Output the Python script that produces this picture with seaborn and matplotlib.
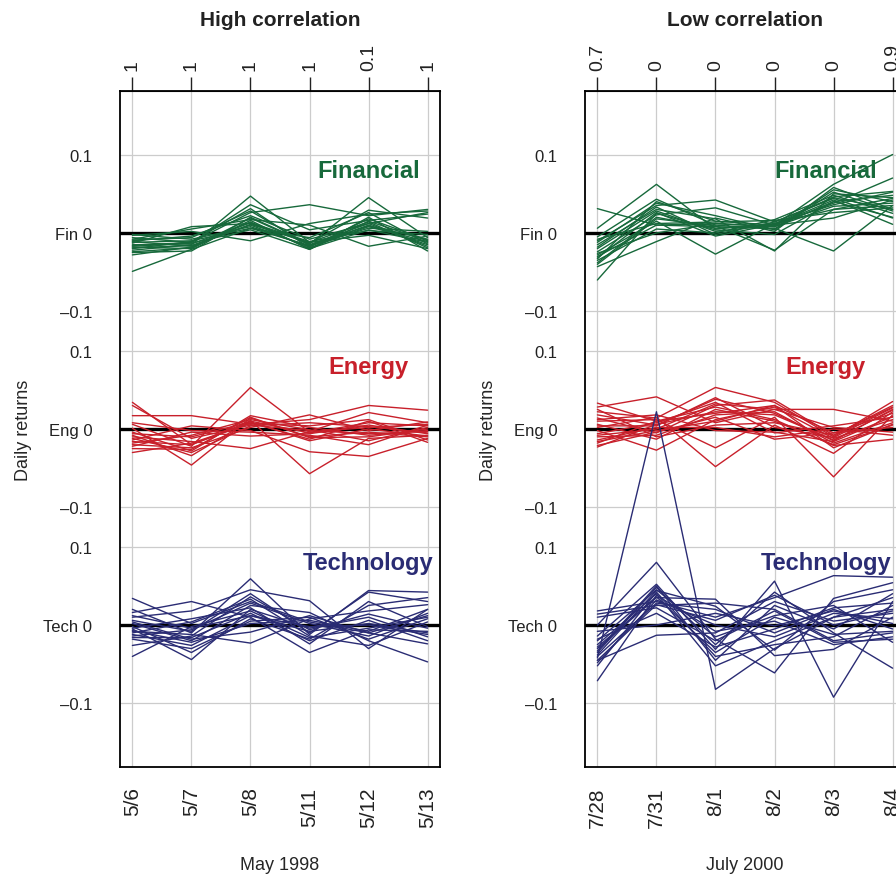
import matplotlib
matplotlib.use("Agg")
import matplotlib.pyplot as plt
import seaborn as sns
import pandas as pd

# Daily returns, one row per stock, six trading days per panel
dates_high = ["5/6", "5/7", "5/8", "5/11", "5/12", "5/13"]
dates_low = ["7/28", "7/31", "8/1", "8/2", "8/3", "8/4"]
top_high = ["1", "1", "1", "1", "0.1", "1"]
top_low = ["0.7", "0", "0", "0", "0", "0.9"]

fin_high = [
    [-0.049, -0.021, 0.006, -0.016, 0.009, -0.008],
    [-0.028, -0.018, 0.014, -0.020, 0.004, -0.012],
    [-0.025, -0.023, 0.020, -0.014, 0.045, -0.006],
    [-0.022, -0.015, 0.047, -0.012, 0.014, -0.019],
    [-0.020, -0.011, 0.031, -0.019, 0.008, -0.011],
    [-0.018, -0.020, 0.016, -0.021, 0.020, -0.023],
    [-0.016, -0.012, 0.026, 0.036, 0.022, 0.030],
    [-0.013, 0.008, 0.012, -0.013, 0.029, 0.019],
    [-0.010, -0.004, 0.022, -0.008, 0.012, 0.026],
    [-0.008, 0.005, 0.017, 0.010, -0.017, -0.004],
    [-0.006, -0.012, 0.036, 0.004, 0.016, 0.024],
    [-0.003, 0.002, -0.010, 0.012, 0.024, 0.028],
    [-0.002, -0.008, 0.008, -0.017, 0.010, -0.015],
    [-0.015, -0.014, 0.013, -0.011, 0.003, -0.002],
    [-0.019, -0.016, 0.010, -0.018, 0.018, -0.009],
    [-0.012, -0.010, 0.006, -0.006, 0.026, -0.014],
    [-0.024, -0.019, 0.019, -0.015, 0.012, -0.017],
    [-0.009, -0.006, 0.028, -0.016, 0.006, 0.002],
    [-0.017, -0.013, 0.004, -0.021, 0.015, -0.010],
    [-0.011, -0.017, 0.011, -0.012, -0.003, -0.020],
]
eng_high = [
    [0.034, -0.020, 0.010, -0.005, 0.008, 0.004],
    [0.030, -0.012, 0.005, -0.002, -0.006, -0.003],
    [0.017, 0.017, 0.006, 0.012, 0.030, 0.024],
    [0.006, -0.022, 0.053, -0.004, 0.002, 0.006],
    [0.001, -0.046, 0.014, -0.010, -0.004, -0.010],
    [-0.004, -0.028, 0.017, 0.002, -0.008, -0.002],
    [-0.008, -0.034, 0.011, -0.057, -0.012, -0.008],
    [-0.010, -0.016, -0.025, -0.003, 0.021, 0.008],
    [-0.012, -0.030, 0.004, 0.008, 0.003, -0.005],
    [-0.014, 0.004, -0.002, -0.029, -0.035, -0.012],
    [-0.016, -0.020, 0.008, -0.013, 0.010, -0.017],
    [-0.018, -0.008, 0.012, -0.001, -0.015, 0.002],
    [-0.020, -0.024, 0.002, 0.018, -0.002, 0.009],
    [-0.022, -0.004, -0.009, -0.006, 0.005, -0.006],
    [-0.025, -0.026, 0.015, -0.011, -0.010, 0.000],
    [-0.030, -0.018, 0.007, 0.004, 0.012, -0.014],
    [0.008, -0.002, -0.004, -0.008, -0.020, 0.005],
    [-0.006, -0.010, 0.009, -0.015, 0.000, -0.009],
]
tech_high = [
    [0.034, 0.002, 0.030, 0.004, -0.010, 0.012],
    [0.020, -0.010, 0.059, -0.012, 0.044, 0.042],
    [0.016, 0.030, 0.010, -0.035, -0.006, -0.008],
    [0.010, 0.018, 0.045, 0.031, -0.030, 0.020],
    [0.006, -0.008, 0.040, -0.010, 0.042, 0.030],
    [0.002, -0.020, 0.025, 0.016, -0.020, -0.047],
    [-0.002, -0.035, 0.008, -0.018, 0.025, 0.035],
    [-0.005, -0.044, 0.020, -0.004, 0.010, -0.015],
    [-0.008, -0.012, -0.023, 0.008, 0.018, 0.026],
    [-0.010, 0.004, 0.033, -0.014, -0.026, 0.004],
    [-0.012, -0.026, 0.012, -0.008, 0.002, -0.010],
    [-0.014, -0.006, 0.028, 0.002, -0.014, 0.015],
    [-0.016, -0.016, 0.015, -0.020, 0.006, -0.020],
    [-0.018, -0.030, 0.005, 0.010, -0.018, 0.008],
    [-0.026, -0.014, 0.036, -0.006, 0.014, -0.004],
    [-0.040, -0.002, 0.018, -0.016, -0.004, 0.010],
    [0.004, -0.018, -0.009, 0.012, -0.010, -0.024],
    [-0.004, 0.008, 0.022, -0.024, 0.030, -0.002],
    [-0.007, -0.022, 0.002, 0.006, -0.008, 0.020],
    [0.012, -0.004, 0.012, -0.002, 0.000, -0.012],
]

fin_low = [
    [0.031, 0.010, 0.012, 0.008, 0.040, 0.020],
    [0.006, 0.062, 0.005, 0.012, 0.030, 0.035],
    [-0.005, 0.043, 0.010, 0.005, 0.055, 0.040],
    [-0.010, 0.035, 0.042, 0.014, 0.045, 0.030],
    [-0.015, 0.030, 0.018, -0.023, 0.050, 0.045],
    [-0.020, 0.028, 0.002, 0.010, 0.062, 0.100],
    [-0.024, 0.023, 0.032, 0.010, 0.038, 0.070],
    [-0.028, 0.015, -0.027, 0.012, 0.036, 0.052],
    [-0.030, 0.010, 0.008, 0.006, -0.023, 0.035],
    [-0.033, 0.040, 0.015, 0.010, 0.042, 0.011],
    [-0.035, 0.005, 0.000, 0.017, 0.048, 0.025],
    [-0.038, 0.020, 0.006, 0.010, 0.019, 0.042],
    [-0.043, -0.011, 0.019, 0.002, 0.058, 0.030],
    [-0.060, 0.025, 0.004, -0.002, 0.040, 0.048],
    [-0.018, 0.033, -0.002, 0.014, 0.044, 0.019],
    [-0.026, 0.000, 0.012, 0.008, 0.034, 0.038],
    [-0.012, 0.038, 0.022, 0.004, 0.052, 0.028],
    [-0.040, 0.018, 0.009, -0.022, 0.030, 0.044],
    [-0.032, 0.026, -0.004, 0.011, 0.046, 0.053],
    [-0.008, 0.012, 0.014, 0.016, 0.026, 0.032],
]
eng_low = [
    [0.033, 0.010, 0.020, 0.030, -0.005, 0.020],
    [0.028, 0.041, 0.008, 0.025, 0.025, 0.010],
    [0.022, 0.014, 0.053, 0.034, -0.010, 0.035],
    [0.018, 0.005, 0.038, 0.020, -0.015, 0.025],
    [0.014, -0.005, 0.030, 0.037, -0.008, 0.028],
    [0.010, 0.012, -0.024, 0.015, -0.061, 0.018],
    [0.006, -0.013, 0.025, 0.010, -0.020, 0.005],
    [0.002, 0.015, -0.048, 0.005, -0.031, 0.022],
    [-0.002, -0.027, 0.012, 0.028, -0.012, 0.012],
    [-0.006, 0.008, 0.034, -0.005, 0.004, 0.015],
    [-0.010, -0.008, 0.018, 0.022, -0.018, 0.008],
    [-0.014, 0.002, 0.002, -0.010, 0.000, -0.008],
    [-0.018, 0.010, 0.028, 0.012, -0.021, -0.013],
    [-0.021, -0.004, 0.015, -0.013, -0.005, 0.002],
    [-0.023, 0.006, 0.022, 0.018, -0.014, 0.024],
    [0.025, -0.010, 0.005, 0.008, -0.008, 0.030],
    [-0.008, 0.000, 0.032, 0.025, 0.002, -0.004],
    [0.012, 0.018, -0.002, -0.004, -0.016, 0.016],
    [-0.016, -0.002, 0.010, 0.030, -0.024, 0.006],
    [0.004, 0.004, 0.040, 0.002, -0.011, 0.027],
]
tech_low = [
    [-0.042, 0.272, -0.082, -0.030, 0.010, 0.020],
    [0.018, 0.030, 0.010, 0.035, 0.063, 0.061],
    [0.014, 0.025, 0.028, 0.020, -0.020, -0.010],
    [0.000, 0.080, -0.018, -0.061, 0.034, 0.054],
    [-0.014, 0.052, -0.031, 0.056, -0.092, 0.030],
    [-0.020, 0.045, -0.015, 0.012, 0.025, -0.022],
    [-0.025, 0.040, -0.052, -0.020, 0.010, 0.035],
    [-0.030, 0.035, 0.033, -0.039, -0.031, 0.010],
    [-0.035, 0.048, -0.025, 0.042, -0.010, -0.055],
    [-0.040, 0.028, 0.020, -0.010, 0.020, -0.005],
    [-0.045, -0.013, -0.010, 0.030, 0.005, 0.015],
    [-0.052, 0.042, -0.040, -0.025, -0.015, 0.025],
    [-0.071, 0.038, -0.008, 0.005, -0.025, -0.015],
    [-0.008, 0.000, 0.015, -0.001, 0.018, 0.002],
    [-0.033, 0.050, -0.045, 0.025, -0.005, 0.040],
    [-0.048, 0.032, 0.000, -0.015, 0.015, 0.008],
    [0.010, 0.022, -0.020, 0.018, -0.022, -0.018],
    [-0.038, 0.044, 0.024, -0.032, 0.030, 0.045],
    [-0.028, 0.036, -0.035, 0.010, -0.012, -0.008],
    [-0.045, 0.026, 0.006, 0.038, 0.000, 0.018],
    [-0.018, 0.015, -0.028, -0.005, 0.022, 0.028],
]

sector_names = ["Financial", "Energy", "Technology"]
sector_colors = ["#17693B", "#C8202B", "#2A2C74"]
sector_offsets = [0.5, 0.25, 0.0]

ytick_pos = [-0.1, 0.0, 0.1, 0.15, 0.25, 0.35, 0.4, 0.5, 0.6]
ytick_labels = ["\u20130.1", "Tech 0", "0.1", "\u20130.1", "Eng 0", "0.1",
                "\u20130.1", "Fin 0", "0.1"]

sns.set_style("white")
plt.rcParams["font.family"] = ["Liberation Sans", "DejaVu Sans"]
plt.rcParams["text.color"] = "#222222"


def to_long(rows, offset):
    recs = []
    for i, r in enumerate(rows):
        for j, v in enumerate(r):
            recs.append({"stock": i, "day": j, "ret": v + offset})
    return pd.DataFrame(recs)


def draw_panel(ax, groups, dates, top_labels, title, xlabel, label_x):
    for y in ytick_pos:
        if y in sector_offsets:
            ax.axhline(y, color="black", lw=2.4, zorder=1.5)
        else:
            ax.axhline(y, color="#cccccc", lw=0.9, zorder=0)
    for x in range(len(dates)):
        ax.axvline(x, color="#cccccc", lw=0.9, zorder=0)

    for name, rows, off, color in zip(sector_names, groups, sector_offsets, sector_colors):
        df = to_long(rows, off)
        sns.lineplot(data=df, x="day", y="ret", units="stock", estimator=None,
                     color=color, lw=1.0, ax=ax, legend=False, zorder=3)
        ax.text(label_x, off + 0.08, name, color=color, fontsize=17,
                fontweight="bold", ha="center", va="center", zorder=2)

    ax.set_xlim(-0.21, 5.21)
    ax.set_ylim(-0.181, 0.681)
    ax.set_xticks(range(len(dates)))
    ax.set_xticklabels(dates, rotation=90)
    ax.set_yticks(ytick_pos)
    ax.set_yticklabels(ytick_labels)
    ax.tick_params(axis="x", direction="out", length=10, width=1, pad=4,
                   labelsize=15, colors="#222222")
    ax.tick_params(axis="y", direction="out", length=10, width=1, pad=10,
                   labelsize=12, colors="#222222")
    for s in ax.spines.values():
        s.set_color("black")
        s.set_linewidth(1.3)

    sec = ax.secondary_xaxis("top")
    sec.set_xticks(range(len(dates)), labels=top_labels)
    sec.tick_params(direction="out", length=10, width=1, pad=5, labelsize=14,
                    labelrotation=90, colors="#222222")

    ax.set_xlabel(xlabel, fontsize=13, va="top")
    ax.xaxis.set_label_coords(0.5, -0.132)
    ax.set_ylabel("Daily returns", fontsize=13)
    ax.yaxis.set_label_coords(-0.274, 0.5)
    ax.text(0.5, 1.1065, title, transform=ax.transAxes, fontsize=15,
            fontweight="bold", ha="center", va="center")


fig = plt.figure(figsize=(8.96, 8.78), dpi=100)
ax1 = fig.add_axes([120 / 896, 110 / 878, 320 / 896, 676 / 878])
ax2 = fig.add_axes([585 / 896, 110 / 878, 320 / 896, 676 / 878])

draw_panel(ax1, [fin_high, eng_high, tech_high], dates_high, top_high,
           "High correlation", "May 1998", 4.0)
draw_panel(ax2, [fin_low, eng_low, tech_low], dates_low, top_low,
           "Low correlation", "July 2000", 3.87)

fig.savefig("out.png", dpi=100)
